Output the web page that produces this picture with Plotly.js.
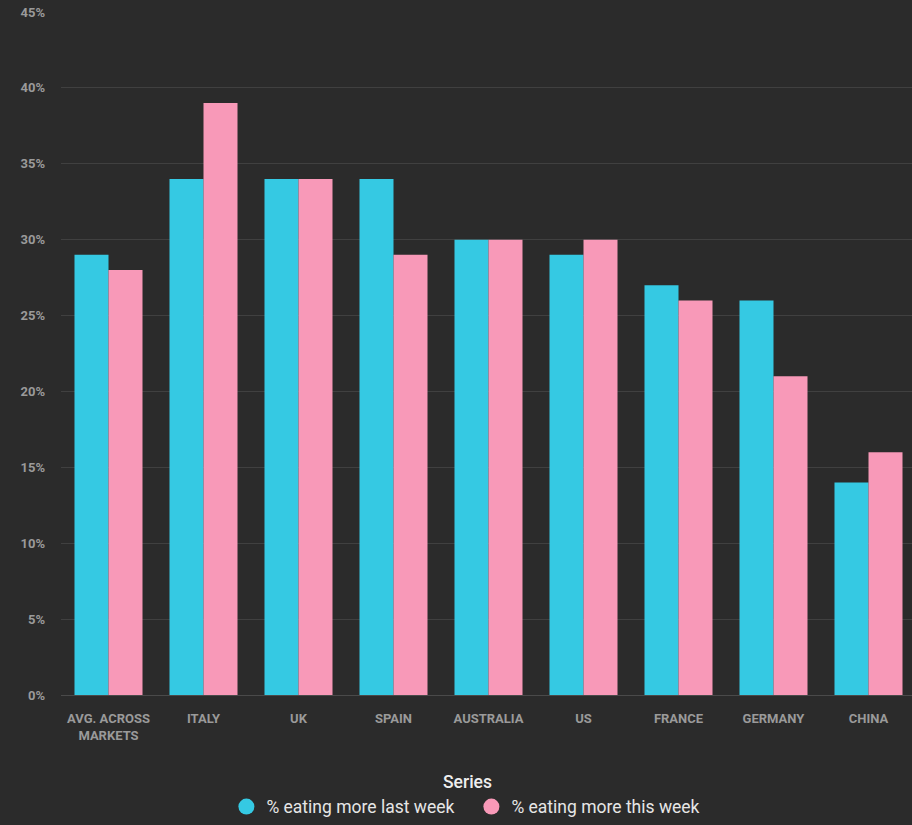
<!DOCTYPE html>
<html>
<head>
<meta charset="utf-8">
<script src="https://cdn.plot.ly/plotly-3.0.1.min.js"></script>
<style>html,body{margin:0;padding:0;background:#2b2b2b;overflow:hidden;}#chart{width:916px;height:825px;}</style>
</head>
<body>
<div id="chart"></div>
<script>
const categories = ["AVG. ACROSS<br>MARKETS", "ITALY", "UK", "SPAIN", "AUSTRALIA", "US", "FRANCE", "GERMANY", "CHINA"];
const lastWeek = [29, 34, 34, 34, 30, 29, 27, 26, 14];
const thisWeek = [28, 39, 34, 29, 30, 30, 26, 21, 16];
const seriesNames = ["% eating more last week", "% eating more this week"];
const legendTitle = "Series";
const colors = ["#35c9e3", "#f899b8"];

const data = [
  {type: "bar", x: categories, y: lastWeek, name: seriesNames[0], marker: {color: colors[0]}, showlegend: false, hoverinfo: "y"},
  {type: "bar", x: categories, y: thisWeek, name: seriesNames[1], marker: {color: colors[1]}, showlegend: false, hoverinfo: "y"},
  {type: "scatter", mode: "markers", x: [null], y: [null], name: seriesNames[0], marker: {color: colors[0], symbol: "circle", size: 17}},
  {type: "scatter", mode: "markers", x: [null], y: [null], name: seriesNames[1], marker: {color: colors[1], symbol: "circle", size: 17}}
];

const layout = {
  width: 916, height: 825,
  paper_bgcolor: "#2b2b2b", plot_bgcolor: "#2b2b2b",
  margin: {l: 61, r: 0, t: 12, b: 130},
  barmode: "group", bargap: 0.284, bargroupgap: 0,
  font: {family: "Roboto, sans-serif"},
  xaxis: {
    type: "category", automargin: false, tickangle: 0,
    range: [-0.5, categories.length - 0.5],
    tickfont: {family: "Roboto, sans-serif", size: 13, color: "#9a9a9a", weight: "bold"},
    showgrid: false, zeroline: false, showline: false, ticks: "",
    ticklabelstandoff: 14
  },
  yaxis: {
    range: [0, 45], dtick: 5, ticksuffix: "%", automargin: false,
    tickfont: {family: "Roboto, sans-serif", size: 13, color: "#9a9a9a", weight: "bold"},
    gridcolor: "#404040", gridwidth: 1, zeroline: true, zerolinecolor: "#4a4a4a", zerolinewidth: 1,
    showline: false, ticks: "", ticklabelstandoff: 15
  },
  showlegend: true,
  legend: {
    orientation: "h", x: 0.480, xanchor: "center", y: -0.1635, yanchor: "middle",
    font: {family: "Roboto, sans-serif", size: 17.5, color: "#e6e6e6"},
    entrywidth: 200,
    itemclick: false, itemdoubleclick: false
  },
  annotations: [{
    text: legendTitle, xref: "paper", yref: "paper", x: 0.476, y: -0.128,
    xanchor: "center", yanchor: "middle", showarrow: false,
    font: {family: "Roboto, sans-serif", size: 17.5, color: "#eeeeee", weight: 500}
  }]
};

Plotly.newPlot("chart", data, layout, {displayModeBar: false, staticPlot: true});
</script>
</body>
</html>
